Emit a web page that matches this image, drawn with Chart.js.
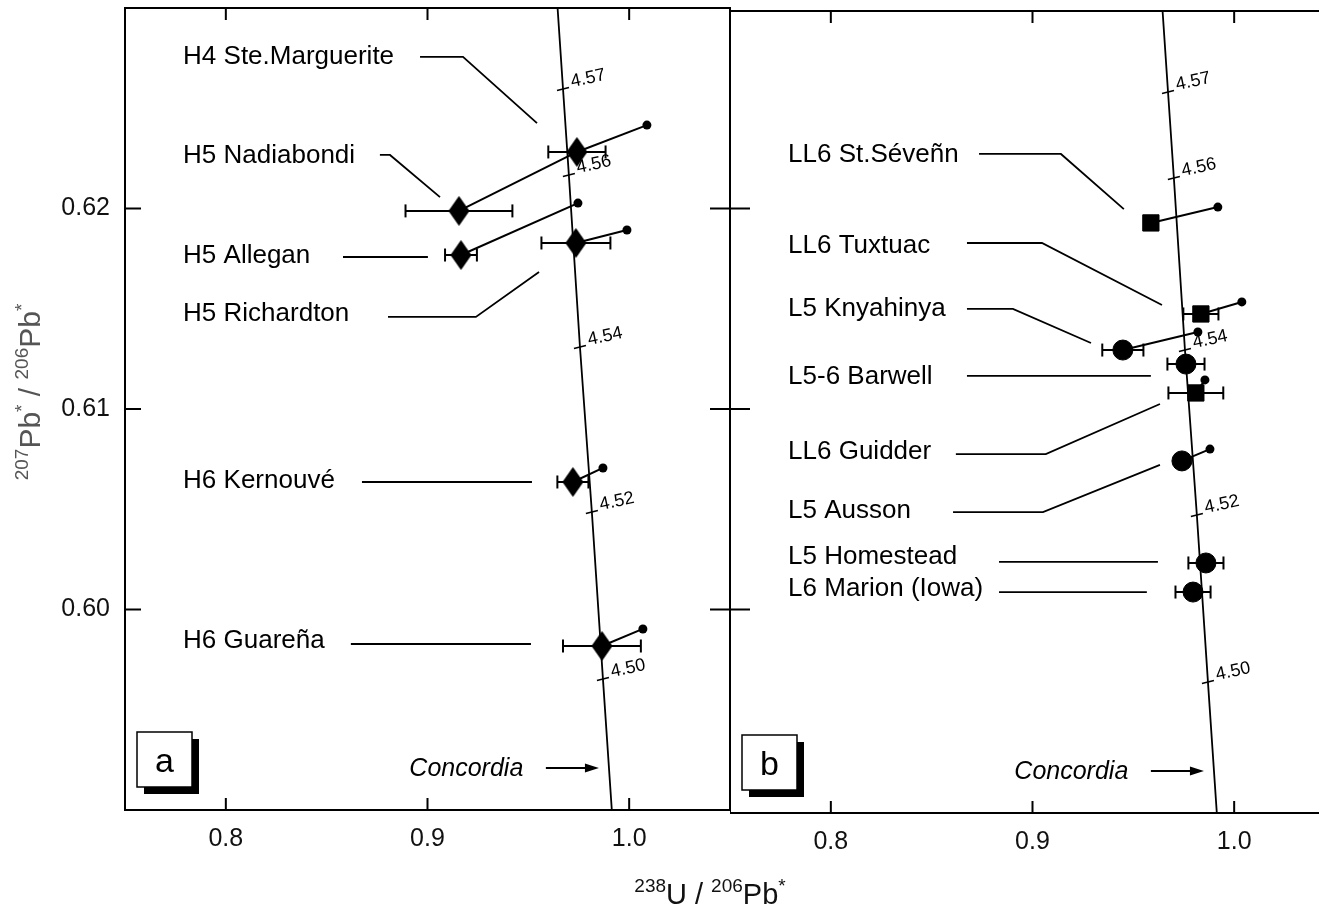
<!DOCTYPE html>
<html>
<head>
<meta charset="utf-8">
<title>Pb-Pb concordia, H and L/LL chondrites</title>
<script src="https://cdn.jsdelivr.net/npm/chart.js@4.4.0/dist/chart.umd.min.js"></script>
<style>
  html, body { margin: 0; padding: 0; background: #fff; }
  #wrap { position: relative; width: 1319px; height: 916px; overflow: hidden; background: #fff; }
  #wrap canvas { position: absolute; }
  #chartA { left: 0; top: 0; }
  #chartB { left: 730px; top: 3px; }
</style>
</head>
<body>
<div id="wrap">
  <canvas id="chartA" width="830" height="916"></canvas>
  <canvas id="chartB" width="620" height="916"></canvas>
</div>
<script>
const FONT = '"Liberation Sans", Arial, Helvetica, sans-serif';

// axes
const xTicks = [0.8, 0.9, 1.0];
const xTickLabels = ['0.8', '0.9', '1.0'];
const yTicks = [0.60, 0.61, 0.62];
const yTickLabels = ['0.60', '0.61', '0.62'];

// concordia curve, read at its age marks (Ga)
const concAge = ['', '4.57', '4.56', '4.54', '4.52', '4.50', ''];
const concX = [0.9645, 0.9672, 0.9701, 0.9756, 0.9815, 0.9870, 0.9914];
const concY = [0.63, 0.62596, 0.62167, 0.61309, 0.60486, 0.59653, 0.59];

// panel a: H chondrites
const namesA = ['H4 Ste.Marguerite', 'H5 Nadiabondi', 'H5 Allegan', 'H5 Richardton', 'H6 Kernouvé', 'H6 Guareña'];
const uPbA = [0.9741, 0.9156, 0.9166, 0.9736, 0.9721, 0.9865];
const pbPbA = [0.62282, 0.61988, 0.61768, 0.61828, 0.60636, 0.59818];
const errA = [0.0142, 0.0265, 0.0079, 0.0171, 0.0077, 0.0193];
const rawUA = [1.0088, 0.9741, 0.9746, 0.9989, 0.9870, 1.0068];
const rawPbA = [0.62416, 0.62282, 0.62027, 0.61893, 0.60706, 0.59903];

// panel b: L and LL chondrites
const namesB = ['LL6 St.Séveñn', 'LL6 Tuxtuac', 'L5 Knyahinya', 'L5-6 Barwell', 'LL6 Guidder', 'L5 Ausson', 'L5 Homestead', 'L6 Marion (Iowa)'];
const groupB = ['LL', 'LL', 'L', 'L', 'LL', 'L', 'L', 'L'];
const uPbB = [0.9587, 0.9835, 0.9448, 0.9761, 0.9810, 0.9741, 0.9860, 0.9796];
const pbPbB = [0.61943, 0.61489, 0.61309, 0.61239, 0.61095, 0.60756, 0.60247, 0.60102];
const errB = [0, 0.0087, 0.0102, 0.0092, 0.0136, 0, 0.0087, 0.0087];
const rawUB = [0.9919, 1.0038, 0.9820, null, 0.9855, 0.9880, null, null];
const rawPbB = [0.62022, 0.61549, 0.61399, null, 0.61160, 0.60815, null, null];

// name labels and their leader lines, in axis units
const labelX = 0.7788;
const labelYA = [0.62766, 0.62272, 0.61773, 0.61484, 0.60651, 0.59853];
const leaderXA = [[0.8963, 0.9176, 0.9543], [0.8764, 0.8814, 0.9062], [0.8581, 0.9002], [0.8804, 0.9240, 0.9553], [0.8675, 0.9518], [0.8620, 0.9513]];
const leaderYA = [[0.62756, 0.62756, 0.62426], [0.62267, 0.62267, 0.62057], [0.61758, 0.61758], [0.61459, 0.61459, 0.61683], [0.60636, 0.60636], [0.59828, 0.59828]];
const labelYB = [0.62292, 0.61838, 0.61524, 0.61185, 0.60810, 0.60516, 0.60287, 0.60127];
const leaderXB = [[0.8735, 0.9141, 0.9453], [0.8675, 0.9047, 0.9642], [0.8675, 0.8903, 0.9290], [0.8675, 0.9587], [0.8620, 0.9066, 0.9632], [0.8606, 0.9052, 0.9632], [0.8834, 0.9622], [0.8834, 0.9567]];
const leaderYB = [[0.62287, 0.62287, 0.62012], [0.61843, 0.61843, 0.61534], [0.61514, 0.61514, 0.61344], [0.61180, 0.61180], [0.60790, 0.60790, 0.61040], [0.60501, 0.60501, 0.60736], [0.60252, 0.60252], [0.60102, 0.60102]];

// "Concordia ->" note
const noteX = 0.891, noteArrowFrom = 0.9587, noteArrowTo = 0.985, noteY = 0.5921;

Chart.defaults.font.family = FONT;

function diamond(w, h) {
  const c = document.createElement('canvas');
  c.width = w; c.height = h;
  const g = c.getContext('2d');
  g.fillStyle = '#000';
  g.beginPath();
  g.moveTo(w / 2, 0); g.lineTo(w, h / 2); g.lineTo(w / 2, h); g.lineTo(0, h / 2);
  g.closePath();
  g.fill();
  return c;
}
const diamondImg = diamond(21, 30);

function line(ctx, x0, y0, x1, y1) {
  ctx.beginPath(); ctx.moveTo(x0, y0); ctx.lineTo(x1, y1); ctx.stroke();
}

function drawRich(ctx, parts, cx, base, size, sup) {
  const fontOf = s => (s ? sup : size) + 'px ' + FONT;
  let w = 0;
  parts.forEach(([t, s]) => { ctx.font = fontOf(s); w += ctx.measureText(t).width; });
  let x = cx - w / 2;
  ctx.textAlign = 'left';
  ctx.textBaseline = 'alphabetic';
  parts.forEach(([t, s]) => {
    ctx.font = fontOf(s);
    ctx.fillText(t, x, s ? base - size * 0.4 : base);
    x += ctx.measureText(t).width;
  });
}

// no automatic padding around the axes
function noPad(s) {
  s.paddingTop = 0; s.paddingBottom = 0; s.paddingLeft = 0; s.paddingRight = 0;
}

function buildDatasets(u, pb, rawU, rawPb, leaderX, leaderY, marker) {
  const sets = [];
  sets.push(Object.assign({
    label: 'samples',
    data: u.map((v, i) => ({ x: v, y: pb[i] })),
    backgroundColor: '#000',
    borderColor: '#000',
    pointBorderWidth: 1,
    order: 0
  }, marker));
  u.forEach((v, i) => {
    if (rawU[i] == null) return;
    sets.push({
      label: 'link',
      data: [{ x: v, y: pb[i] }, { x: rawU[i], y: rawPb[i] }],
      showLine: true,
      borderColor: '#000',
      borderWidth: 2,
      pointRadius: [0, 4.5],
      pointBackgroundColor: '#000',
      pointBorderWidth: 0,
      order: 1
    });
  });
  leaderX.forEach((xs, i) => {
    sets.push({
      label: 'leader',
      data: xs.map((v, k) => ({ x: v, y: leaderY[i][k] })),
      showLine: true,
      borderColor: '#000',
      borderWidth: 1.8,
      pointRadius: 0,
      order: 2
    });
  });
  sets.push({
    label: 'concordia',
    data: concX.map((v, i) => ({ x: v, y: concY[i] })),
    showLine: true,
    borderColor: '#000',
    borderWidth: 1.8,
    pointRadius: 0,
    order: 3
  });
  return sets;
}

function makeDecor(p) {
  return {
    id: 'decor',
    beforeDatasetsDraw(chart) {
      const { ctx, scales: { x, y } } = chart;
      ctx.save();
      ctx.strokeStyle = '#000';
      ctx.lineWidth = 2;
      p.u.forEach((v, i) => {
        const e = p.err[i];
        if (!e) return;
        const py = y.getPixelForValue(p.pb[i]);
        const x0 = x.getPixelForValue(v - e), x1 = x.getPixelForValue(v + e);
        line(ctx, x0, py, x1, py);
        line(ctx, x0, py - 6.5, x0, py + 6.5);
        line(ctx, x1, py - 6.5, x1, py + 6.5);
      });
      ctx.restore();
    },
    afterDraw(chart) {
      const { ctx, chartArea: a, scales: { x, y } } = chart;
      ctx.save();
      ctx.strokeStyle = '#000';
      ctx.fillStyle = '#000';
      ctx.lineWidth = 2;
      ctx.strokeRect(a.left, a.top, a.right - a.left, a.bottom - a.top);

      // inward tick marks
      xTicks.forEach(v => {
        const px = x.getPixelForValue(v);
        line(ctx, px, a.bottom, px, a.bottom - 12);
        line(ctx, px, a.top, px, a.top + 12);
      });
      yTicks.forEach(v => {
        const py = y.getPixelForValue(v);
        if (p.leftAxis) line(ctx, a.left, py, a.left + 16, py);
        if (p.divider) line(ctx, a.right - 20, py, a.right + 20, py);
      });

      // age marks on the concordia
      ctx.lineWidth = 1.5;
      ctx.font = '18px ' + FONT;
      ctx.textAlign = 'left';
      ctx.textBaseline = 'alphabetic';
      concAge.forEach((age, i) => {
        if (!age) return;
        const px = x.getPixelForValue(concX[i]), py = y.getPixelForValue(concY[i]);
        line(ctx, px - 6, py + 1.5, px + 6, py - 1.5);
        ctx.save();
        ctx.translate(px + 9, py - 2);
        ctx.rotate(-12 * Math.PI / 180);
        ctx.fillText(age, 0, 0);
        ctx.restore();
      });

      // sample names
      ctx.font = '26px ' + FONT;
      const tx = x.getPixelForValue(labelX);
      p.names.forEach((n, i) => {
        ctx.fillText(n, tx, y.getPixelForValue(p.labelY[i]) + 9);
      });

      // Concordia note and arrow
      const ny = y.getPixelForValue(noteY);
      ctx.font = 'italic 25px ' + FONT;
      ctx.fillText('Concordia', x.getPixelForValue(noteX), ny + 8);
      const ax0 = x.getPixelForValue(noteArrowFrom), ax1 = x.getPixelForValue(noteArrowTo);
      ctx.lineWidth = 2;
      line(ctx, ax0, ny, ax1 - 10, ny);
      ctx.beginPath();
      ctx.moveTo(ax1, ny); ctx.lineTo(ax1 - 14, ny - 4.5); ctx.lineTo(ax1 - 14, ny + 4.5);
      ctx.closePath();
      ctx.fill();

      // panel letter in a shadowed box
      const bx = a.left + 12, by = a.bottom - 78, bs = 55;
      ctx.fillRect(bx + 7, by + 7, bs, bs);
      ctx.fillStyle = '#fff';
      ctx.fillRect(bx, by, bs, bs);
      ctx.lineWidth = 1.5;
      ctx.strokeRect(bx, by, bs, bs);
      ctx.fillStyle = '#000';
      ctx.font = '34px ' + FONT;
      ctx.textAlign = 'center';
      ctx.fillText(p.letter, bx + bs / 2, by + bs / 2 + 12);

      if (p.titles) {
        ctx.fillStyle = '#111';
        drawRich(ctx, [['238', 1], ['U / ', 0], ['206', 1], ['Pb', 0], ['*', 1]], 710, 904, 29, 19);
        ctx.save();
        ctx.translate(40, 392);
        ctx.rotate(-Math.PI / 2);
        ctx.fillStyle = '#555';
        drawRich(ctx, [['207', 1], ['Pb', 0], ['*', 1], [' / ', 0], ['206', 1], ['Pb', 0], ['*', 1]], 0, 0, 30, 19);
        ctx.restore();
      }
      ctx.restore();
    }
  };
}

function xScale() {
  return {
    type: 'linear',
    min: 0.75,
    max: 1.05,
    afterBuildTicks: s => { s.ticks = xTicks.map(v => ({ value: v })); },
    afterFit: s => { s.height = 106; noPad(s); },
    grid: { display: false, drawTicks: false },
    border: { display: false },
    ticks: {
      callback: v => xTickLabels[xTicks.indexOf(v)],
      font: { size: 25 },
      color: '#111',
      padding: 14,
      maxRotation: 0
    }
  };
}

const commonOptions = {
  responsive: false,
  animation: false,
  events: [],
  plugins: { legend: { display: false }, tooltip: { enabled: false } }
};

new Chart(document.getElementById('chartA'), {
  type: 'scatter',
  data: {
    datasets: buildDatasets(uPbA, pbPbA, rawUA, rawPbA, leaderXA, leaderYA,
      { pointStyle: diamondImg, pointRadius: 14 })
  },
  options: Object.assign({}, commonOptions, {
    layout: { autoPadding: false, padding: { top: 8, right: 100, left: 0, bottom: 0 } },
    scales: {
      x: xScale(),
      y: {
        type: 'linear',
        min: 0.59,
        max: 0.63,
        afterBuildTicks: s => { s.ticks = yTicks.map(v => ({ value: v })); },
        afterFit: s => { s.width = 125; noPad(s); },
        grid: { display: false, drawTicks: false },
        border: { display: false },
        ticks: {
          callback: v => yTickLabels[yTicks.indexOf(v)],
          font: { size: 25 },
          color: '#111',
          padding: 15
        }
      }
    }
  }),
  plugins: [makeDecor({
    u: uPbA, pb: pbPbA, err: errA, names: namesA, labelY: labelYA,
    letter: 'a', leftAxis: true, divider: true, titles: true
  })]
});

new Chart(document.getElementById('chartB'), {
  type: 'scatter',
  data: {
    datasets: buildDatasets(uPbB, pbPbB, rawUB, rawPbB, leaderXB, leaderYB, {
      pointStyle: groupB.map(g => (g === 'LL' ? 'rect' : 'circle')),
      pointRadius: groupB.map(g => (g === 'LL' ? 11.5 : 10))
    })
  },
  options: Object.assign({}, commonOptions, {
    layout: { autoPadding: false, padding: { top: 8, right: 15, left: 0, bottom: 0 } },
    scales: {
      x: xScale(),
      y: { type: 'linear', min: 0.59, max: 0.63, display: false }
    }
  }),
  plugins: [makeDecor({
    u: uPbB, pb: pbPbB, err: errB, names: namesB, labelY: labelYB,
    letter: 'b', leftAxis: false, divider: false, titles: false
  })]
});
</script>
</body>
</html>
